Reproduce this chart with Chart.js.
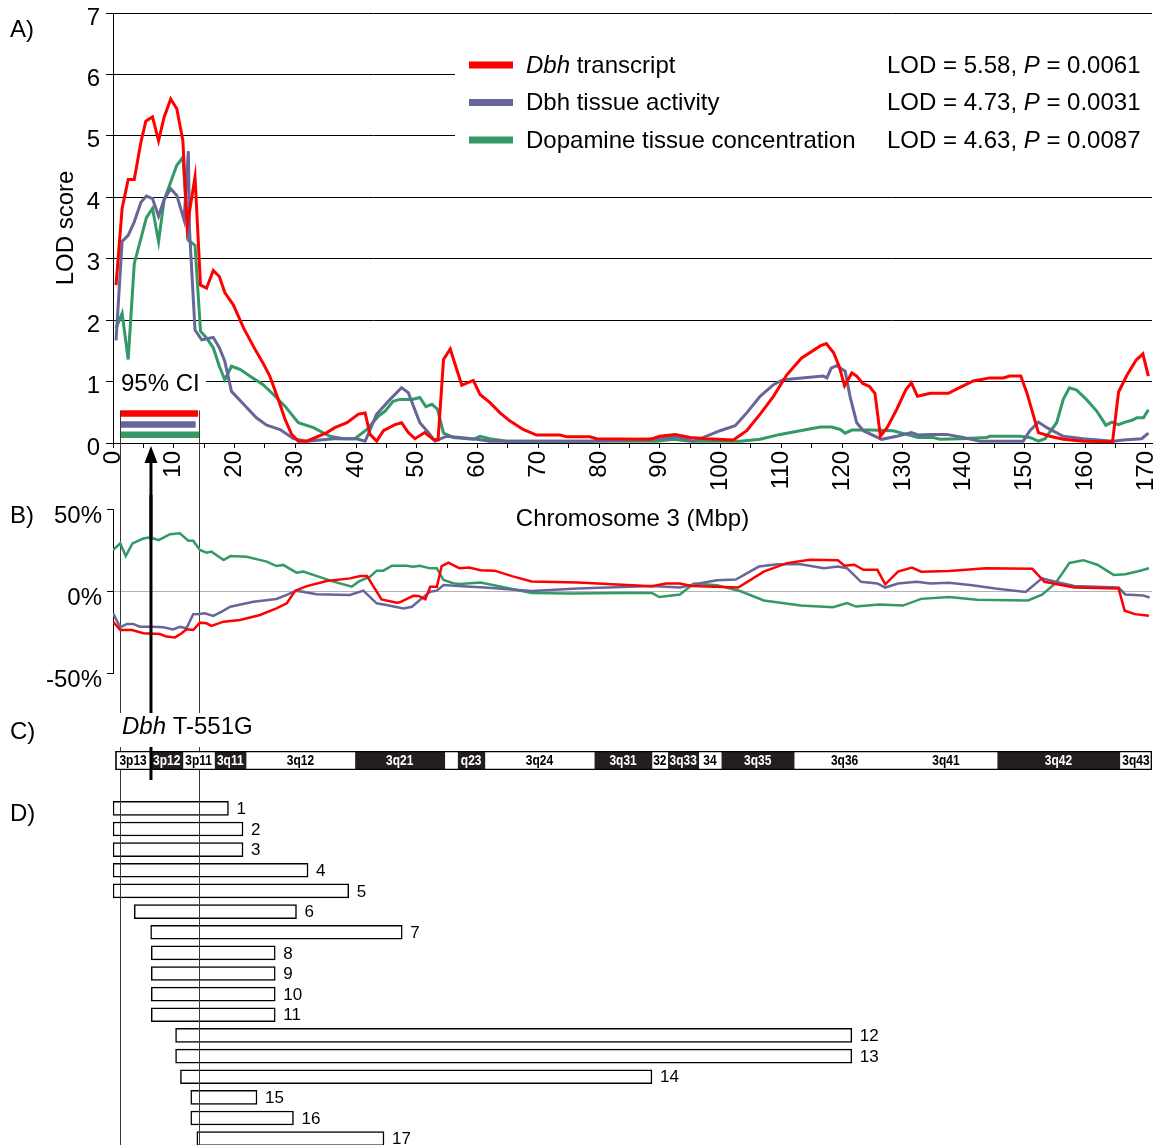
<!DOCTYPE html>
<html>
<head>
<meta charset="utf-8">
<script src="https://cdn.jsdelivr.net/npm/chart.js@4.4.1/dist/chart.umd.min.js"></script>
<style>
  html, body { margin: 0; padding: 0; background: #fff; overflow: hidden; }
  body { width: 1161px; height: 1145px; position: relative; }
  canvas { position: absolute; left: 0; }
</style>
</head>
<body>
<canvas id="lodChart" width="1161" height="540" style="top:0"></canvas>
<canvas id="effectChart" width="1161" height="200" style="top:495px"></canvas>
<canvas id="bandChart" width="1161" height="95" style="top:695px"></canvas>
<canvas id="congenicChart" width="1161" height="370" style="top:790px"></canvas>
<script>
// ---- A) LOD score along chromosome 3, [Mbp, LOD] ----
const lodTranscript = [
  [0.5,2.57],[1.5,3.82],[2.5,4.29],[3.5,4.29],[4.6,4.9],[5.4,5.24],[6.5,5.31],[7.5,4.92],[8.4,5.3],[9.5,5.6],
  [10.5,5.44],[11.5,4.92],[12.2,3.52],[13.5,4.33],[14.4,2.57],[15.4,2.52],[16.5,2.81],[17.5,2.71],[18.4,2.45],[19.8,2.25],
  [21.5,1.87],[23.4,1.52],[24.7,1.3],[25.8,1.09],[27.2,0.71],[28.3,0.39],[29.4,0.14],[30.5,0.03],[31.9,0.03],[35.2,0.17],
  [36.5,0.25],[38.5,0.33],[40.4,0.47],[41.5,0.49],[42.3,0.14],[43.4,0.03],[44.5,0.2],[46.4,0.3],[47.5,0.33],[48.6,0.17],
  [49.7,0.07],[51.3,0.17],[52.7,0.06],[53.5,0.05],[54.4,1.36],[55.5,1.53],[57.4,0.94],[59.3,1.02],[60.4,0.79],[62,0.66],
  [63.7,0.49],[65.3,0.36],[67.5,0.22],[69.7,0.13],[73.6,0.13],[74.7,0.1],[78.5,0.1],[79.6,0.07],[88.4,0.06],[90,0.11],
  [92.5,0.14],[95,0.09],[97.7,0.07],[102.1,0.05],[104.3,0.2],[106.5,0.47],[108.7,0.76],[110.9,1.11],[113.3,1.38],[116.4,1.58],
  [117.4,1.62],[118.6,1.47],[119.5,1.25],[120.4,0.93],[121.6,1.14],[122.4,1.09],[123.4,0.97],[124.5,0.92],[125.4,0.81],[126.3,0.11],
  [127.4,0.25],[129,0.55],[130.5,0.87],[131.4,0.98],[132.4,0.76],[134.5,0.81],[137.5,0.81],[138.9,0.88],[141.6,1.01],[144.3,1.06],
  [146.5,1.06],[147.6,1.09],[149.4,1.09],[150.4,0.82],[152.3,0.17],[154.2,0.11],[156.4,0.06],[159.7,0.03],[164.5,0.02],[165.5,0.83],
  [166.8,1.09],[168.4,1.35],[169.5,1.45],[170.4,1.09]
];
const lodActivity = [
  [0.5,1.67],[1.5,3.28],[2.5,3.38],[3.5,3.6],[4.6,3.92],[5.5,4.02],[6.5,3.98],[7.5,3.69],[8.4,3.96],[9.5,4.14],
  [10.5,4.03],[11.7,3.63],[12.4,4.75],[12.6,3.45],[13.5,1.84],[14.6,1.68],[16.5,1.72],[17.5,1.55],[18.4,1.33],[19.5,0.84],
  [21.5,0.63],[23.6,0.41],[25.3,0.29],[27.5,0.22],[29.7,0.07],[31.9,0.03],[36.3,0.07],[40.1,0.07],[41.5,0.03],[43.4,0.47],
  [45.6,0.71],[47.5,0.9],[48.6,0.82],[50.5,0.33],[51.9,0.17],[53,0.03],[54.9,0.11],[57.1,0.09],[59.9,0.06],[62,0.03],
  [78.5,0.03],[89.5,0.07],[92.8,0.1],[95.5,0.03],[97.2,0.09],[99.9,0.2],[102.4,0.28],[104.3,0.49],[106.5,0.76],[108.7,0.95],
  [110.3,1.03],[116.9,1.09],[117.5,1.06],[118.2,1.22],[119.1,1.26],[120.5,1.17],[121.3,0.76],[122.4,0.33],[123.5,0.2],[126.5,0.06],
  [129,0.11],[131.4,0.17],[132.5,0.13],[134.5,0.14],[137.2,0.14],[139.9,0.09],[142.7,0.03],[149.8,0.03],[150.9,0.2],[152.3,0.34],
  [153.7,0.25],[156.4,0.11],[159.7,0.07],[164.6,0.03],[166.3,0.05],[169.3,0.07],[170.4,0.16]
];
const lodDopamine = [
  [0.5,1.87],[1.5,2.11],[2.5,1.36],[3.5,2.92],[4.6,3.33],[5.5,3.67],[6.5,3.82],[7.5,3.28],[8.4,3.95],[9.5,4.25],
  [10.5,4.52],[11.5,4.65],[12.4,3.3],[13.5,3.22],[14.4,1.82],[15.4,1.71],[16.5,1.55],[17.5,1.25],[18.4,1.03],[19.5,1.25],
  [20.9,1.2],[22.5,1.09],[24.7,0.95],[26.4,0.79],[28.3,0.6],[30.5,0.33],[33,0.25],[35.7,0.11],[37.9,0.07],[39.8,0.07],
  [41.8,0.22],[43.7,0.44],[44.8,0.52],[46.1,0.68],[47.2,0.71],[49.2,0.71],[50.5,0.74],[51.5,0.59],[52.5,0.63],[53.4,0.55],
  [54.4,0.16],[56,0.09],[59.3,0.06],[60.4,0.11],[62,0.07],[64.8,0.03],[89.5,0.03],[92.2,0.06],[95,0.03],[103.2,0.03],
  [106.5,0.06],[109.8,0.14],[114.2,0.22],[116.4,0.26],[118.3,0.26],[119.7,0.22],[120.5,0.16],[121.6,0.21],[124.6,0.21],[128.4,0.2],
  [130.6,0.14],[132.5,0.09],[135,0.09],[136.1,0.06],[139.4,0.07],[143.8,0.09],[144.3,0.11],[149.3,0.11],[150.9,0.09],[152.3,0.03],
  [153.4,0.07],[155.3,0.33],[156.4,0.71],[157.4,0.9],[158.6,0.86],[160.2,0.71],[161.9,0.52],[163.4,0.29],[164.4,0.34],[165.5,0.3],
  [166.6,0.34],[167.7,0.37],[168.5,0.41],[169.6,0.41],[170.4,0.54]
];

// ---- B) strain effect along chromosome 3, [Mbp, %] ----
const effectTranscript = [
  [0,-18.7],[1.2,-23.8],[3.1,-23.8],[5,-25.8],[7.7,-26.2],[8.8,-27.8],[10.2,-28.3],[11.3,-25.8],[12.1,-23.4],[13.2,-23.8],
  [14.3,-19.3],[15.4,-19.7],[16.2,-21.3],[18.2,-18.7],[20.9,-17.7],[24.2,-14.6],[26.9,-10.6],[28.6,-7.5],[30,0.2],[31.9,3],
  [35.2,6.1],[39,7.7],[40.7,9.1],[41.8,9.1],[44.2,-5.1],[46.7,-7.1],[47.2,-6.9],[49.4,-2.9],[50.3,-3],[51.4,-5.1],
  [52.2,2.6],[53.3,2.6],[54.1,15.2],[55.2,17.3],[57,13.9],[58.6,14.3],[60.5,12.6],[62.8,12.4],[65.8,8.9],[68.9,5.8],
  [76.5,5.2],[88.7,2.9],[91,4.6],[93.3,4.6],[95.2,3.1],[102.9,2.1],[107.1,11.8],[110.9,17],[114.7,19.1],[119.3,18.7],
  [120.4,15.4],[122,16],[123.5,12.9],[125.8,12.9],[127.1,4.1],[129.2,11.8],[131.5,14.3],[133,11.8],[137.6,12.2],[143.7,13.9],
  [151.3,13.5],[153.3,5.6],[158.2,2.1],[165.5,1.5],[166.5,-12],[168.2,-14.1],[170.5,-15.1]
];
const effectActivity = [
  [0,-13.6],[1.2,-22.1],[2.3,-20.1],[3.3,-20.1],[4.4,-21.8],[6.6,-21.8],[8.3,-22.1],[9.9,-23.4],[11,-21.8],[12.1,-22.7],
  [13.2,-14.2],[14.3,-14],[15.1,-13.6],[16.5,-15.2],[17.9,-12.6],[19.3,-9.6],[23.1,-6.5],[26.9,-4.9],[28.6,-2.4],[30.2,0.2],
  [33.5,-2],[39,-2.4],[41.2,0.2],[43.4,-7.5],[45,-8.5],[47.8,-10.6],[49.2,-9.6],[50.5,-5.5],[52.2,-0.4],[53.3,0.2],
  [54.4,3.7],[57.4,2.9],[61.2,2.1],[68.9,0],[76.5,1.5],[88.7,3],[93.3,2.1],[96.4,4.6],[99.4,6.6],[102.5,7],
  [106.3,14.9],[109.4,16.3],[113.2,16.3],[117,13.9],[119.3,14.9],[120.8,13.9],[123.1,5.6],[125.8,4.6],[127.1,2.1],[129.2,4.6],
  [132.3,5.6],[134.5,4.6],[137.6,5],[141.4,3.5],[145.2,1.5],[150.2,-0.6],[152.9,7.7],[155.1,5.6],[158.2,3.1],[165.5,2.1],
  [166.6,-2.1],[169.5,-2.7],[170.6,-4]
];
const effectDopamine = [
  [0,25],[1.2,29],[2.1,21.3],[3.2,29],[5,32],[6.1,32.7],[7.5,31],[9.4,34.6],[11,35.2],[12.4,30.7],
  [13.2,30.7],[14.3,25],[15.4,23.4],[16.2,24],[18.2,18.9],[19.3,21.3],[22,20.9],[25.3,17.9],[26.9,15.2],[28,15.9],
  [30.2,11.2],[31.3,11.8],[36.3,5.7],[39.3,2.6],[40.4,5.7],[42.3,8.7],[43.4,12.4],[44.5,12.4],[45.9,15.4],[48.3,15.4],
  [49.4,14.8],[50.5,15.4],[52.2,13.8],[53.3,13.8],[54.4,6.7],[56,4.7],[57.1,4.3],[60.5,5.2],[63.5,2.9],[68.9,-1.2],
  [75,-1.6],[84.2,-1.2],[88.7,-1.2],[89.9,-3.7],[93.3,-2.1],[95.6,4.6],[99.4,3.5],[103.2,0],[107.1,-5.8],[113.2,-8.9],
  [118.5,-9.9],[120.8,-7.4],[122.3,-9.5],[126.1,-8.3],[130,-8.9],[133,-4.8],[137.6,-3.7],[142.2,-5.4],[150.6,-5.8],[152.9,-2.3],
  [155.1,4.6],[157.4,17.1],[159.7,18.8],[162,16],[164.7,9.8],[166.6,10.2],[168.9,12.2],[170.5,13.9]
];

// 95% confidence interval (Mbp) and the Dbh gene
const ciBounds = [1.15, 14.15];
const ciTranscript = [1.27, 14.0];
const ciActivity = [1.27, 13.6];
const ciDopamine = [1.27, 14.2];
const dbhPosition = 6.25;

// ---- C) cytogenetic bands of chromosome 3 (Mbp) ----
const bandNames  = ['3p13','3p12','3p11','3q11','3q12','3q21','','q23','3q24','3q31','32','3q33','34','3q35','3q36','3q41','3q42','3q43'];
const bandStarts = [0.4, 6.2, 11.5, 16.7, 21.9, 39.8, 54.6, 56.7, 61.2, 79.2, 88.7, 91.3, 96.4, 100.1, 112.1, 128.7, 145.5, 165.7];
const bandEnds   = [6.2, 11.5, 16.7, 21.9, 39.8, 54.6, 56.7, 61.2, 79.2, 88.7, 91.3, 96.4, 100.1, 112.1, 128.7, 145.5, 165.7, 171];
const bandDark   = [0, 1, 0, 1, 0, 1, 0, 1, 0, 1, 0, 1, 0, 1, 0, 0, 1, 0];

// ---- D) congenic intervals (Mbp) ----
const congenicStrains = ['1','2','3','4','5','6','7','8','9','10','11','12','13','14','15','16','17'];
const congenicStart = [0, 0, 0, 0, 0, 3.5, 6.2, 6.3, 6.3, 6.3, 6.3, 10.3, 10.3, 11.1, 12.8, 12.8, 13.8];
const congenicEnd   = [19.0, 21.4, 21.4, 32.1, 38.8, 30.2, 47.6, 26.7, 26.7, 26.7, 26.7, 121.6, 121.6, 88.7, 23.7, 29.7, 44.6];

const legendRows = [
  { name: [['Dbh', true], [' transcript', false]], stat: [['LOD = 5.58, ', false], ['P', true], [' = 0.0061', false]] },
  { name: [['Dbh tissue activity', false]], stat: [['LOD = 4.73, ', false], ['P', true], [' = 0.0031', false]] },
  { name: [['Dopamine tissue concentration', false]], stat: [['LOD = 4.63, ', false], ['P', true], [' = 0.0087', false]] }
];

const FONT = "'Liberation Sans', Arial, sans-serif";
const RED = '#ff0000', PURPLE = '#666699', GREEN = '#339966';

Chart.defaults.font.family = FONT;
Chart.defaults.font.size = 24;
Chart.defaults.color = '#000';
Chart.defaults.animation = false;
Chart.defaults.events = [];
Chart.defaults.plugins.legend.display = false;
Chart.defaults.plugins.tooltip.enabled = false;

const toPoints = arr => arr.map(p => ({ x: p[0], y: p[1] }));

// no extra label padding: every panel must share the same x mapping
function noPad(s) {
  s.paddingLeft = 0; s.paddingRight = 0; s.paddingTop = 0; s.paddingBottom = 0;
}

function richText(ctx, parts, x, y, size) {
  parts.forEach(function (p) {
    ctx.font = (p[1] ? 'italic ' : '') + size + 'px ' + FONT;
    ctx.fillText(p[0], x, y);
    x += ctx.measureText(p[0]).width;
  });
  return x;
}

function panelLetter(ctx, text, y) {
  ctx.save();
  ctx.font = '24px ' + FONT;
  ctx.fillStyle = '#000';
  ctx.textBaseline = 'middle';
  ctx.fillText(text, 10, y);
  ctx.restore();
}

// thin lines marking the 95% CI, running down through all panels
function ciLines(chart, y0, y1) {
  const ctx = chart.ctx;
  ctx.save();
  ctx.strokeStyle = '#3a3a3a';
  ctx.lineWidth = 1;
  ciBounds.forEach(function (v) {
    const px = Math.round(chart.scales.x.getPixelForValue(v)) + 0.5;
    ctx.beginPath();
    ctx.moveTo(px, y0);
    ctx.lineTo(px, y1);
    ctx.stroke();
  });
  ctx.restore();
}

function dbhShaft(chart, y0, y1) {
  const px = chart.scales.x.getPixelForValue(dbhPosition);
  chart.ctx.save();
  chart.ctx.fillStyle = '#000';
  chart.ctx.fillRect(px - 1.5, y0, 3, y1 - y0);
  chart.ctx.restore();
}

const lineSet = (label, pts, color, width) => ({
  label: label, data: toPoints(pts), borderColor: color, backgroundColor: color,
  borderWidth: width, pointRadius: 0, tension: 0
});

const ciSet = (range, level, color) => ({
  data: [{ x: range[0], y: level }, { x: range[1], y: level }],
  borderColor: color, borderWidth: 6.5, pointRadius: 0, borderCapStyle: 'butt'
});

// ---------- A ----------
const lodDecor = {
  id: 'lodDecor',
  beforeDatasetsDraw(chart) {
    const ctx = chart.ctx;
    ctx.save();
    ctx.fillStyle = '#fff';
    ctx.fillRect(455, 40, 706, 122);
    ctx.fillRect(114, 369, 92, 28);
    ctx.restore();
  },
  afterDraw(chart) {
    const ctx = chart.ctx, ys = chart.scales.y, xs = chart.scales.x;
    ctx.save();
    ctx.textBaseline = 'middle';
    ctx.fillStyle = '#000';
    legendRows.forEach(function (row, i) {
      const y = 65 + i * 37.5;
      ctx.fillStyle = chart.data.datasets[i].borderColor;
      ctx.fillRect(469, y - 3.5, 44, 7);
      ctx.fillStyle = '#000';
      richText(ctx, row.name, 526, y + 1, 24);
      richText(ctx, row.stat, 887, y + 1, 24);
    });
    ctx.font = '24px ' + FONT;
    ctx.fillText('95% CI', 121, 384);
    ctx.restore();

    ciLines(chart, ys.getPixelForValue(0.48) - 3, chart.height);

    const px = xs.getPixelForValue(dbhPosition);
    const tip = ys.getPixelForValue(0) + 3;
    ctx.save();
    ctx.fillStyle = '#000';
    ctx.beginPath();
    ctx.moveTo(px, tip);
    ctx.lineTo(px - 6.5, tip + 17);
    ctx.lineTo(px + 6.5, tip + 17);
    ctx.closePath();
    ctx.fill();
    ctx.restore();
    dbhShaft(chart, tip + 15, chart.height);
    panelLetter(ctx, 'A)', 30);
  }
};

new Chart(document.getElementById('lodChart'), {
  type: 'line',
  data: {
    datasets: [
      lineSet('Dbh transcript', lodTranscript, RED, 3),
      lineSet('Dbh tissue activity', lodActivity, PURPLE, 3),
      lineSet('Dopamine tissue concentration', lodDopamine, GREEN, 3),
      ciSet(ciTranscript, 0.48, RED),
      ciSet(ciActivity, 0.30, PURPLE),
      ciSet(ciDopamine, 0.135, GREEN)
    ]
  },
  options: {
    responsive: false,
    layout: { autoPadding: false, padding: { top: 13, right: 9, bottom: 0, left: 0 } },
    scales: {
      x: {
        type: 'linear', min: 0, max: 171,
        afterFit: s => { s.height = 97; noPad(s); },
        grid: { drawOnChartArea: false, color: '#000', tickLength: 5 },
        border: { color: '#000' },
        ticks: {
          stepSize: 5, includeBounds: false, autoSkip: false, minRotation: 90, maxRotation: 90, padding: 3,
          callback: v => Math.round(v) % 10 === 0 ? String(Math.round(v)) : ''
        },
        title: { display: true, text: 'Chromosome 3 (Mbp)', padding: { top: 0, bottom: 6 } }
      },
      y: {
        min: 0, max: 7,
        afterFit: s => { s.width = 113; noPad(s); },
        grid: { color: '#000', tickLength: 7 },
        border: { color: '#000' },
        ticks: { stepSize: 1, padding: 6, labelOffset: 5 },
        title: { display: true, text: 'LOD score', padding: { top: 52, bottom: 0 } }
      }
    }
  },
  plugins: [lodDecor]
});

// ---------- B ----------
const effectDecor = {
  id: 'effectDecor',
  beforeDatasetsDraw(chart) {
    ciLines(chart, 0, chart.height);
  },
  afterDatasetsDraw(chart) {
    dbhShaft(chart, 0, chart.height);
    panelLetter(chart.ctx, 'B)', 21);
  }
};

new Chart(document.getElementById('effectChart'), {
  type: 'line',
  data: {
    datasets: [
      lineSet('Dbh transcript', effectTranscript, RED, 2.5),
      lineSet('Dbh tissue activity', effectActivity, PURPLE, 2.5),
      lineSet('Dopamine tissue concentration', effectDopamine, GREEN, 2.5)
    ]
  },
  options: {
    responsive: false,
    layout: { autoPadding: false, padding: { top: 14, right: 9, bottom: 22, left: 0 } },
    scales: {
      x: { type: 'linear', min: 0, max: 171, display: false },
      y: {
        min: -50, max: 50,
        afterFit: s => { s.width = 113; noPad(s); },
        grid: {
          color: c => (c.tick && c.tick.value === 0) ? '#b4b4b4' : 'rgba(0,0,0,0)',
          tickColor: '#000', tickLength: 6
        },
        border: { color: '#000' },
        ticks: { stepSize: 50, padding: 5, labelOffset: 7, callback: v => v + '%' }
      }
    }
  },
  plugins: [effectDecor]
});

// ---------- C ----------
const bandDecor = {
  id: 'bandDecor',
  beforeDatasetsDraw(chart) {
    ciLines(chart, 0, chart.height);
  },
  afterDatasetsDraw(chart) {
    const ctx = chart.ctx;
    const squeeze = 0.8;
    ctx.save();
    ctx.font = 'bold 15px ' + FONT;
    ctx.textAlign = 'center';
    ctx.textBaseline = 'middle';
    bandNames.forEach(function (name, i) {
      const el = chart.getDatasetMeta(i + 1).data[0];
      ctx.fillStyle = bandDark[i] ? '#fff' : '#000';
      ctx.save();
      ctx.translate((el.x + el.base) / 2, el.y + 0.5);
      ctx.scale(squeeze, 1);
      ctx.fillText(name, 0, 0);
      ctx.restore();
    });
    ctx.restore();

    dbhShaft(chart, 0, 85);

    ctx.save();
    ctx.textBaseline = 'middle';
    ctx.font = 'italic 24px ' + FONT;
    let w = ctx.measureText('Dbh').width;
    ctx.font = '24px ' + FONT;
    w += ctx.measureText(' T-551G').width;
    ctx.fillStyle = '#fff';
    ctx.fillRect(116, 18, w + 10, 34);
    ctx.fillStyle = '#000';
    richText(ctx, [['Dbh', true], [' T-551G', false]], 122, 32, 24);
    ctx.restore();
    panelLetter(ctx, 'C)', 37);
  }
};

const bandSets = bandNames.map((name, i) => ({
  label: name || 'q22',
  data: [[bandStarts[i], bandEnds[i]]],
  backgroundColor: bandDark[i] ? '#231f20' : '#fff',
  borderWidth: 0, grouped: false, barPercentage: 1, categoryPercentage: 1
}));

new Chart(document.getElementById('bandChart'), {
  type: 'bar',
  data: {
    labels: ['chr3'],
    datasets: [{
      label: 'outline', data: [[bandStarts[0], bandEnds[bandEnds.length - 1]]],
      backgroundColor: 'rgba(0,0,0,0)', borderColor: '#000', borderWidth: 1, borderSkipped: false,
      grouped: false, barPercentage: 1, categoryPercentage: 1, order: -1
    }].concat(bandSets)
  },
  options: {
    indexAxis: 'y',
    responsive: false,
    layout: { autoPadding: false, padding: { top: 56, right: 9, bottom: 20, left: 113 } },
    scales: {
      x: { type: 'linear', min: 0, max: 171, display: false },
      y: { display: false }
    }
  },
  plugins: [bandDecor]
});

// ---------- D ----------
const congenicDecor = {
  id: 'congenicDecor',
  afterDatasetsDraw(chart) {
    const ctx = chart.ctx;
    ciLines(chart, 0, chart.height);
    ctx.save();
    ctx.font = '17px ' + FONT;
    ctx.fillStyle = '#000';
    ctx.textBaseline = 'middle';
    chart.getDatasetMeta(0).data.forEach(function (el, i) {
      ctx.fillText(congenicStrains[i], Math.max(el.x, el.base) + 8, el.y + 1);
    });
    ctx.restore();
    panelLetter(ctx, 'D)', 24);
  }
};

new Chart(document.getElementById('congenicChart'), {
  type: 'bar',
  data: {
    labels: congenicStrains,
    datasets: [{
      data: congenicStrains.map((s, i) => [congenicStart[i], congenicEnd[i]]),
      backgroundColor: '#fff', borderColor: '#000', borderWidth: 1.5, borderSkipped: false,
      barThickness: 14
    }]
  },
  options: {
    indexAxis: 'y',
    responsive: false,
    layout: { autoPadding: false, padding: { top: 8, right: 9, bottom: 11, left: 113 } },
    scales: {
      x: { type: 'linear', min: 0, max: 171, display: false },
      y: { display: false }
    }
  },
  plugins: [congenicDecor]
});
</script>
</body>
</html>
